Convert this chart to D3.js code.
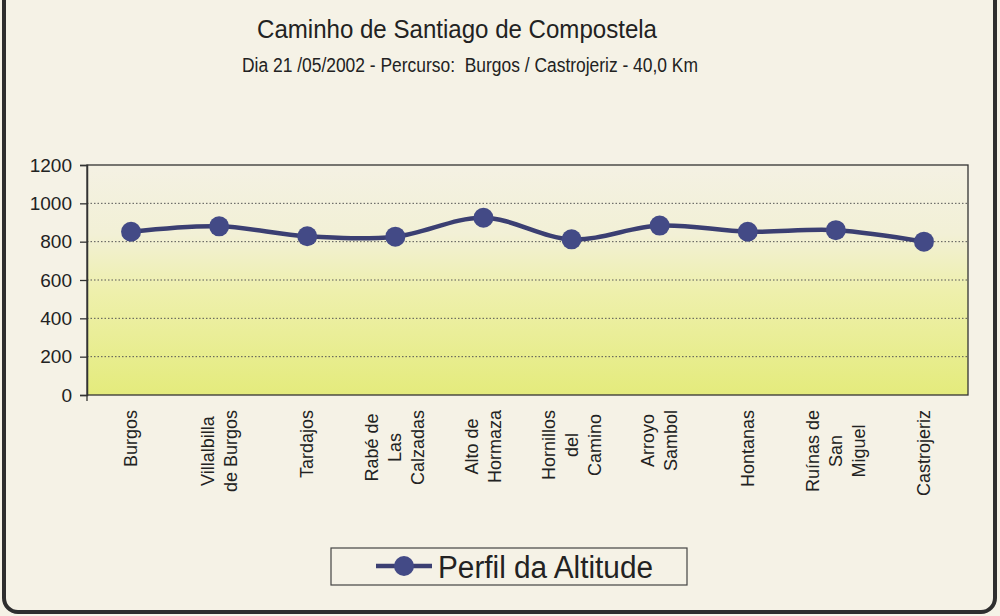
<!DOCTYPE html>
<html>
<head>
<meta charset="utf-8">
<script src="https://cdn.jsdelivr.net/npm/d3@7"></script>
<style>
  body { margin: 0; background: #f5f2e6; }
  svg { display: block; }
</style>
</head>
<body>
<svg id="chart" width="1000" height="616"></svg>
<script>
// data
var places = [
    ["Burgos"],
    ["Villalbilla", "de Burgos"],
    ["Tardajos"],
    ["Rabé de", "Las", "Calzadas"],
    ["Alto de", "Hormaza"],
    ["Hornillos", "del", "Camino"],
    ["Arroyo", "Sambol"],
    ["Hontanas"],
    ["Ruínas de", "San", "Miguel"],
    ["Castrojeriz"]
];
var altitude = [852, 880, 828, 826, 925, 812, 884, 852, 860, 800];
var yTicks = [0, 200, 400, 600, 800, 1000, 1200];
var seriesName = "Perfil da Altitude";
var title = "Caminho de Santiago de Compostela";
var subtitle = "Dia 21 /05/2002 - Percurso:  Burgos / Castrojeriz - 40,0 Km";

var svg = d3.select("#chart");
var lineColor = "#3b3f72";
var dotColor = "#434a86";
var font = "Liberation Sans, Arial, sans-serif";

// outer frame (top edge is cut off in the scan)
svg.append("rect")
    .attr("x", 4).attr("y", -20)
    .attr("width", 991).attr("height", 632)
    .attr("rx", 14)
    .style("fill", "#f5f2e6")
    .style("stroke", "#2e2e2e")
    .style("stroke-width", 4);

// the scan uses a condensed face, so squeeze the text to its measured width
svg.append("text")
    .attr("x", 257).attr("y", 38)
    .attr("textLength", 400)
    .attr("lengthAdjust", "spacingAndGlyphs")
    .style("font-family", font)
    .style("font-size", "26px")
    .style("fill", "#222")
    .text(title);

svg.append("text")
    .attr("x", 242).attr("y", 72)
    .attr("textLength", 456)
    .attr("lengthAdjust", "spacingAndGlyphs")
    .attr("xml:space", "preserve")
    .style("white-space", "pre")
    .style("font-family", font)
    .style("font-size", "20px")
    .style("fill", "#222")
    .text(subtitle);

var margin = { left: 87, right: 968, top: 165, bottom: 395 };

var x = d3.scaleBand()
    .domain(d3.range(places.length))
    .range([margin.left, margin.right]);

var y = d3.scaleLinear()
    .domain([0, 1200])
    .range([margin.bottom, margin.top]);

// background gradient of the plot area
var grad = svg.append("defs").append("linearGradient")
    .attr("id", "bg")
    .attr("x1", 0).attr("y1", 0).attr("x2", 0).attr("y2", 1);
grad.append("stop").attr("offset", "0%").attr("stop-color", "#f4f1e3");
grad.append("stop").attr("offset", "30%").attr("stop-color", "#f2f0d6");
grad.append("stop").attr("offset", "55%").attr("stop-color", "#eef0ac");
grad.append("stop").attr("offset", "100%").attr("stop-color", "#e4eb7c");

svg.append("rect")
    .attr("x", margin.left).attr("y", margin.top)
    .attr("width", margin.right - margin.left)
    .attr("height", margin.bottom - margin.top)
    .style("fill", "url(#bg)");

// dotted gridlines
svg.append("g")
    .selectAll("line")
    .data(yTicks.filter((d) => d > 0 && d < 1200))
    .enter()
    .append("line")
    .attr("x1", margin.left).attr("x2", margin.right)
    .attr("y1", (d) => y(d)).attr("y2", (d) => y(d))
    .style("stroke", "#555")
    .style("stroke-width", 1)
    .style("stroke-dasharray", "1.5,2");

// plot border
svg.append("rect")
    .attr("x", margin.left).attr("y", margin.top)
    .attr("width", margin.right - margin.left)
    .attr("height", margin.bottom - margin.top)
    .style("fill", "none")
    .style("stroke", "#333")
    .style("stroke-width", 1.3);

var yAxis = svg.append("g")
    .attr("transform", "translate(" + margin.left + ",0)")
    .call(d3.axisLeft(y).tickValues(yTicks).tickFormat(d3.format("d")).tickSize(7).tickPadding(8));
yAxis.select(".domain").style("stroke", "#333").style("stroke-width", 1.5);
yAxis.selectAll(".tick line").style("stroke", "#333").style("stroke-width", 1.3);
yAxis.selectAll("text")
    .style("font-family", font)
    .style("font-size", "19px")
    .style("fill", "#222");

// small tick below the origin
svg.append("line")
    .attr("x1", margin.left).attr("x2", margin.left)
    .attr("y1", margin.bottom).attr("y2", margin.bottom + 6)
    .style("stroke", "#333").style("stroke-width", 1.3);

// category labels, rotated, lines centred, block starting just under the axis
var labelTop = 410;
var lineGap = 23;
var labels = svg.append("g")
    .selectAll("g")
    .data(places)
    .enter()
    .append("g");

labels.each(function (lines, i) {
    var g = d3.select(this);
    var cx = x(i) + x.bandwidth() / 2;
    var texts = lines.map((s) => {
        return g.append("text")
            .attr("text-anchor", "middle")
            .style("font-family", font)
            .style("font-size", "18px")
            .style("fill", "#222")
            .text(s);
    });
    var maxLen = d3.max(texts, (t) => t.node().getComputedTextLength());
    var cy = labelTop + maxLen / 2;
    texts.forEach((t, k) => {
        var lx = cx + (k - (lines.length - 1) / 2) * lineGap + 6;
        t.attr("transform", "translate(" + lx + "," + cy + ") rotate(-90)");
    });
});

// the altitude line
var line = d3.line()
    .x((d, i) => x(i) + x.bandwidth() / 2)
    .y((d) => y(d))
    .curve(d3.curveCatmullRom.alpha(0.5));

svg.append("path")
    .datum(altitude)
    .attr("d", line)
    .style("fill", "none")
    .style("stroke", lineColor)
    .style("stroke-width", 4.5);

svg.append("g")
    .selectAll("circle")
    .data(altitude)
    .enter()
    .append("circle")
    .attr("cx", (d, i) => x(i) + x.bandwidth() / 2)
    .attr("cy", (d) => y(d))
    .attr("r", 10)
    .style("fill", dotColor);

// legend
var legend = svg.append("g");
legend.append("rect")
    .attr("x", 331).attr("y", 548)
    .attr("width", 356).attr("height", 37)
    .style("fill", "#f5f2e6")
    .style("stroke", "#444")
    .style("stroke-width", 1.2);
legend.append("line")
    .attr("x1", 376).attr("x2", 432)
    .attr("y1", 566).attr("y2", 566)
    .style("stroke", lineColor)
    .style("stroke-width", 4.5);
legend.append("circle")
    .attr("cx", 404).attr("cy", 566)
    .attr("r", 10)
    .style("fill", dotColor);
legend.append("text")
    .attr("x", 438).attr("y", 578)
    .attr("textLength", 215)
    .attr("lengthAdjust", "spacingAndGlyphs")
    .style("font-family", font)
    .style("font-size", "31px")
    .style("fill", "#222")
    .text(seriesName);
</script>
</body>
</html>
